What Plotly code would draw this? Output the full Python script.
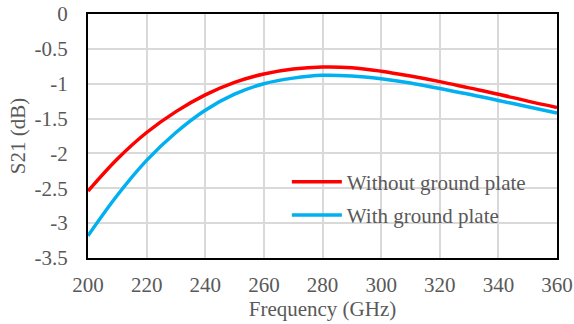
import plotly.graph_objects as go

freq = [200, 210, 220, 230, 240, 250, 260, 270, 280, 290, 300, 310, 320, 330, 340, 350, 360]
without_plate = [-2.54, -2.08, -1.70, -1.40, -1.16, -0.98, -0.86, -0.79, -0.76, -0.77, -0.82, -0.89, -0.97, -1.06, -1.15, -1.25, -1.34]
with_plate = [-3.18, -2.60, -2.10, -1.70, -1.38, -1.15, -1.00, -0.92, -0.88, -0.89, -0.93, -0.99, -1.07, -1.15, -1.24, -1.33, -1.42]

x_ticks = [200, 220, 240, 260, 280, 300, 320, 340, 360]
y_ticks = [0, -0.5, -1, -1.5, -2, -2.5, -3, -3.5]
y_labels = ["0", "-0.5", "-1", "-1.5", "-2", "-2.5", "-3", "-3.5"]

font = "Liberation Serif, Times New Roman, serif"
fs = 21

fig = go.Figure()
fig.add_trace(go.Scatter(x=freq, y=without_plate, mode="lines", name="Without ground plate",
                         legendgroup="a",
                         line=dict(color="#ff0000", width=3.5, shape="spline")))
fig.add_trace(go.Scatter(x=freq, y=with_plate, mode="lines", name="With ground plate",
                         legendgroup="b",
                         line=dict(color="#00b0f0", width=3.5, shape="spline")))

fig.update_layout(
    width=574, height=324,
    margin=dict(l=88, r=17, t=14, b=66),
    paper_bgcolor="white", plot_bgcolor="white",
    font=dict(family=font, size=fs, color="#595959"),
    showlegend=True,
    legend=dict(x=0.424, y=0.395, xanchor="left", yanchor="top",
                bgcolor="rgba(0,0,0,0)", font=dict(size=fs, color="#595959"),
                tracegroupgap=3, itemwidth=50, traceorder="grouped"),
    xaxis=dict(range=[200, 360], tickvals=x_ticks, showgrid=True, gridcolor="#d9d9d9", gridwidth=1.5,
               showline=True, linecolor="black", linewidth=2, mirror=True, ticks="",
               ticklabelstandoff=7, automargin=False,
               zeroline=False, title=dict(text="Frequency (GHz)", standoff=0,
                                          font=dict(size=fs, color="#595959"))),
    yaxis=dict(range=[-3.5, 0], tickvals=y_ticks, ticktext=y_labels, showgrid=True, gridcolor="#d9d9d9",
               gridwidth=1.5, showline=True, linecolor="black", linewidth=2, mirror=True, ticks="",
               ticklabelstandoff=14, automargin=False,
               zeroline=False, title=dict(text="S21 (dB)", standoff=3,
                                          font=dict(size=fs, color="#595959"))),
)

fig.write_html("out.html")
